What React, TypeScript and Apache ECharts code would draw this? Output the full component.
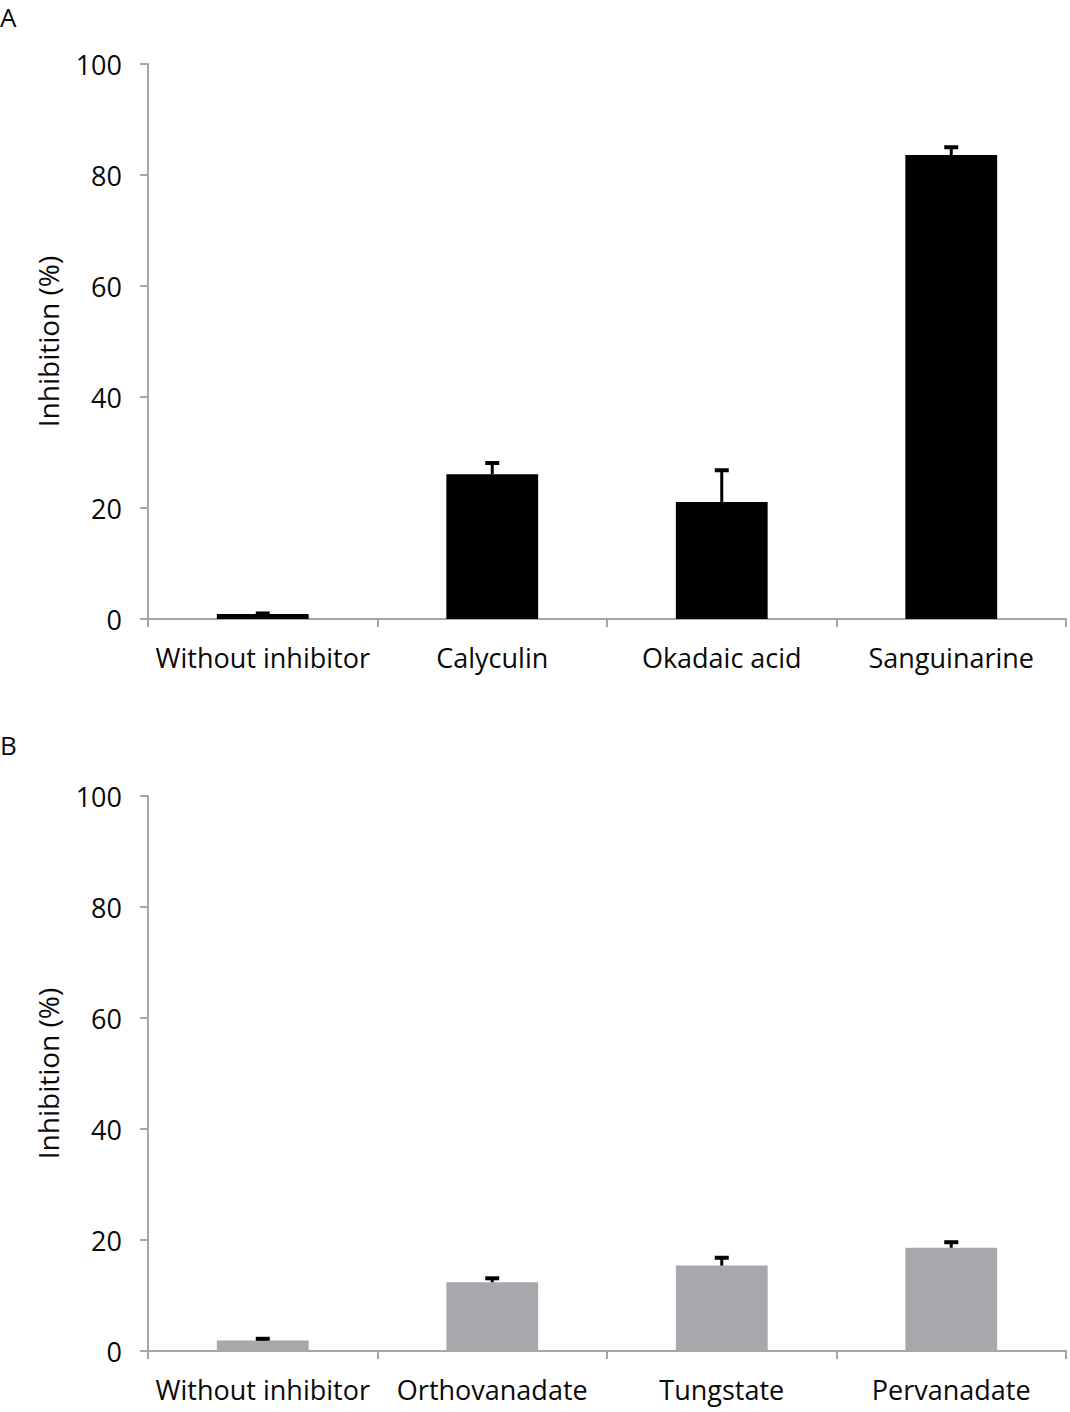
import React, { useEffect, useRef } from "react";
import * as echarts from "echarts";

const categoriesA = ["Without inhibitor", "Calyculin", "Okadaic acid", "Sanguinarine"];
const valuesA = [0.9, 26.1, 21.1, 83.6];
const errorsA = [0.1, 2.0, 5.7, 1.4];

const categoriesB = ["Without inhibitor", "Orthovanadate", "Tungstate", "Pervanadate"];
const valuesB = [1.9, 12.4, 15.4, 18.6];
const errorsB = [0.3, 0.7, 1.4, 1.0];

const yTicks = [0, 20, 40, 60, 80, 100];
const yAxisName = "Inhibition (%)";
const panelLabels = ["A", "B"];

const FONT = "'Open Sans', 'DejaVu Sans', sans-serif";
const AXIS_COLOR = "#a6a6a6";
const TEXT_COLOR = "#0a0a0a";

export default function App() {
  const ref = useRef<HTMLDivElement>(null);
  useEffect(() => {
    document.body.style.margin = "0";
    const chart = echarts.init(ref.current!, null, { renderer: "svg" });
    const grids = [
      { left: 148, right: 4, top: 64, height: 555 },
      { left: 148, right: 4, top: 796, height: 555 },
    ];
    const cats = [categoriesA, categoriesB];
    const vals = [valuesA, valuesB];
    const errs = [errorsA, errorsB];
    const colors = ["#000000", "#a7a8ab"];

    const xAxis = cats.map((c, i) => ({
      type: "category",
      gridIndex: i,
      data: c,
      boundaryGap: true,
      axisLine: { lineStyle: { color: AXIS_COLOR, width: 2 } },
      axisTick: { show: true, length: 8, lineStyle: { color: AXIS_COLOR, width: 2 } },
      axisLabel: { color: TEXT_COLOR, fontSize: 27, fontFamily: FONT, margin: 25, interval: 0 },
    }));
    const yAxis = cats.map((_, i) => ({
      type: "value",
      gridIndex: i,
      min: yTicks[0],
      max: yTicks[yTicks.length - 1],
      interval: 20,
      name: yAxisName,
      nameLocation: "middle",
      nameGap: 86,
      nameRotate: 90,
      nameTextStyle: { color: TEXT_COLOR, fontSize: 28, fontFamily: FONT },
      splitLine: { show: false },
      axisLine: { show: true, lineStyle: { color: AXIS_COLOR, width: 2 } },
      axisTick: { show: true, length: 8, lineStyle: { color: AXIS_COLOR, width: 2 } },
      axisLabel: { color: TEXT_COLOR, fontSize: 27, fontFamily: FONT, margin: 26 },
    }));

    const series: any[] = [];
    cats.forEach((_, i) => {
      series.push({
        type: "bar",
        xAxisIndex: i,
        yAxisIndex: i,
        data: vals[i],
        barWidth: "40%",
        itemStyle: { color: colors[i] },
      });
      series.push({
        type: "custom",
        xAxisIndex: i,
        yAxisIndex: i,
        data: vals[i].map((v, j) => [j, v, errs[i][j]]),
        z: 10,
        renderItem: (params: any, api: any) => {
          const x = api.value(0);
          const v = api.value(1);
          const e = api.value(2);
          const base = api.coord([x, v]);
          const top = api.coord([x, v + e]);
          return {
            type: "group",
            children: [
              {
                type: "line",
                shape: { x1: base[0], y1: base[1], x2: top[0], y2: top[1] },
                style: { stroke: "#000", lineWidth: 3 },
              },
              {
                type: "line",
                shape: { x1: top[0] - 7, y1: top[1], x2: top[0] + 7, y2: top[1] },
                style: { stroke: "#000", lineWidth: 4 },
              },
            ],
          };
        },
      });
    });

    chart.setOption({
      animation: false,
      backgroundColor: "#fff",
      grid: grids,
      xAxis,
      yAxis,
      series,
      graphic: [
        { type: "text", left: 0, top: 4, style: { text: panelLabels[0], fontSize: 26, fontFamily: FONT, fill: TEXT_COLOR } },
        { type: "text", left: 0, top: 732, style: { text: panelLabels[1], fontSize: 26, fontFamily: FONT, fill: TEXT_COLOR } },
      ],
    });
    return () => chart.dispose();
  }, []);
  return <div ref={ref} style={{ width: 1070, height: 1412 }} />;
}
